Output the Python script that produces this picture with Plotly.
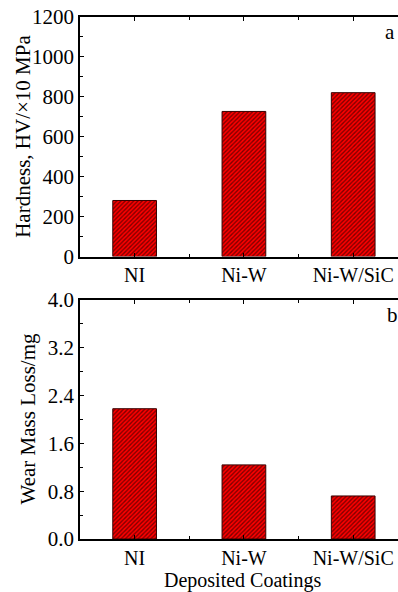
import plotly.graph_objects as go

categories = ["NI", "Ni-W", "Ni-W/SiC"]
hardness = [281, 727, 821]
wear_loss = [2.18, 1.24, 0.72]
hard_ticks = [0, 200, 400, 600, 800, 1000, 1200]
wear_ticks = [0.0, 0.8, 1.6, 2.4, 3.2, 4.0]
wear_ticktext = ["0.0", "0.8", "1.6", "2.4", "3.2", "4.0"]

FONT = "Liberation Serif, Times New Roman, serif"
FS = 21
xs = list(range(len(categories)))
mid_ticks = [i + 0.5 for i in range(len(categories) - 1)]

bar_style = dict(
    color="#ff0000",
    line=dict(color="#3a0000", width=1),
    pattern=dict(shape="/", fgcolor="black", bgcolor="#ff0000", size=3, solidity=0.45),
)

fig = go.Figure()
fig.add_trace(go.Bar(x=xs, y=hardness, width=0.4, marker=bar_style, xaxis="x", yaxis="y", showlegend=False))
fig.add_trace(go.Bar(x=xs, y=wear_loss, width=0.4, marker=bar_style, xaxis="x2", yaxis="y2", showlegend=False))

xcommon = dict(
    range=[-0.5, 2.41], tickmode="array", tickvals=xs, ticktext=categories,
    showline=True, linecolor="black", linewidth=1.5, mirror="ticks",
    ticks="inside", ticklen=4, tickcolor="black",
    minor=dict(ticks="inside", ticklen=3, tickcolor="black", tickmode="array", tickvals=mid_ticks),
    showgrid=False, zeroline=False,
    tickfont=dict(family=FONT, size=20, color="black"),
)
ycommon = dict(
    showline=True, linecolor="black", linewidth=1.5, mirror=False,
    ticks="inside", ticklen=4, tickcolor="black",
    showgrid=False, zeroline=False,
    tickfont=dict(family=FONT, size=FS, color="black"),
)

fig.update_layout(
    width=398, height=592,
    margin=dict(l=80, r=0, t=17, b=53),
    plot_bgcolor="white", paper_bgcolor="white",
    xaxis=dict(**xcommon, domain=[0, 1], anchor="y"),
    xaxis2=dict(**xcommon, domain=[0, 1], anchor="y2"),
    yaxis=dict(**ycommon, domain=[0.541, 1], anchor="x", range=[0, 1200],
               tickmode="array", tickvals=hard_ticks,
               minor=dict(ticks="inside", ticklen=3, tickcolor="black", dtick=100)),
    yaxis2=dict(**ycommon, domain=[0, 0.458], anchor="x2", range=[0, 4.0],
                tickmode="array", tickvals=wear_ticks, ticktext=wear_ticktext,
                minor=dict(ticks="inside", ticklen=3, tickcolor="black", dtick=0.4)),
    annotations=[
        dict(text="Hardness, HV/×10 MPa", xref="paper", yref="paper", x=(23 - 80) / 318, y=(1 + 0.541) / 2,
             xanchor="center", yanchor="middle", textangle=-90, showarrow=False,
             font=dict(family=FONT, size=FS, color="black")),
        dict(text="Wear Mass Loss/mg", xref="paper", yref="paper", x=(28 - 80) / 318, y=0.458 / 2,
             xanchor="center", yanchor="middle", textangle=-90, showarrow=False,
             font=dict(family=FONT, size=FS, color="black")),
        dict(text="Deposited Coatings", xref="paper", yref="paper", x=(242 - 80) / 318, y=-(580.5 - 539) / 522,
             xanchor="center", yanchor="middle", showarrow=False,
             font=dict(family=FONT, size=20, color="black")),
        dict(text="a", xref="paper", yref="paper", x=(390 - 80) / 318, y=1 - (32 - 17) / 522,
             xanchor="center", yanchor="middle", showarrow=False,
             font=dict(family=FONT, size=FS, color="black")),
        dict(text="b", xref="paper", yref="paper", x=(392 - 80) / 318, y=1 - (315 - 17) / 522,
             xanchor="center", yanchor="middle", showarrow=False,
             font=dict(family=FONT, size=FS, color="black")),
    ],
)

fig.write_html("out.html")
